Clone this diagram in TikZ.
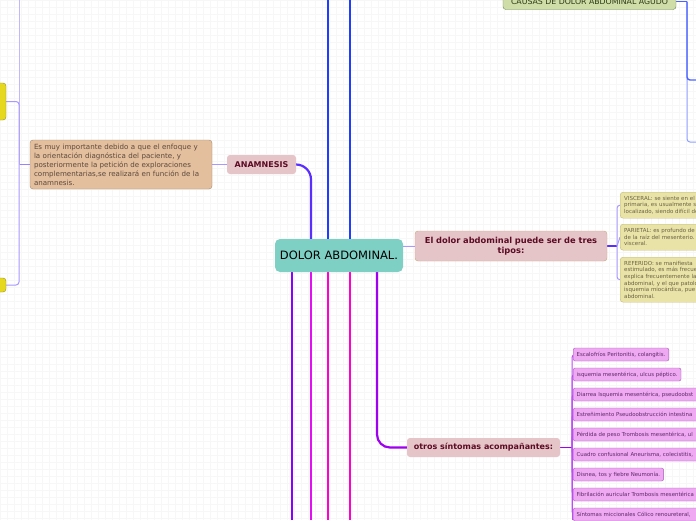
\documentclass[tikz,border=0pt]{standalone}
\usepackage{fontspec}
\setmainfont{DejaVu Sans}
\usepackage{xcolor}
\usepackage{tikz}
\usetikzlibrary{positioning, backgrounds}

\definecolor{centralteal}{HTML}{7FD0C4}
\definecolor{topicpink}{HTML}{E6C5C9}
\definecolor{topicline}{HTML}{C9A882}
\definecolor{topictext}{HTML}{5C0B24}
\definecolor{notetan}{HTML}{E4BF9E}
\definecolor{notetanline}{HTML}{A38B6E}
\definecolor{notetext}{HTML}{5B4A3C}
\definecolor{leafyellow}{HTML}{E9E3A8}
\definecolor{leafyellowline}{HTML}{C4BA78}
\definecolor{leafyellowtext}{HTML}{6B6242}
\definecolor{leafpink}{HTML}{EEA9F2}
\definecolor{leafpinkline}{HTML}{A55AB6}
\definecolor{leafpinktext}{HTML}{5E2A66}
\definecolor{causegreen}{HTML}{CFDDA9}
\definecolor{causeline}{HTML}{6E8C52}
\definecolor{causetext}{HTML}{2C3A14}
\definecolor{stubyellow}{HTML}{E6D81F}
\definecolor{stubline}{HTML}{9A8F1E}
\definecolor{lineblue}{HTML}{1F3DFF}
\definecolor{lineviolet}{HTML}{5A2EFF}
\definecolor{linepurple}{HTML}{8A00FF}
\definecolor{linemagentaA}{HTML}{E010F0}
\definecolor{linemagentaB}{HTML}{FF00D0}
\definecolor{lineorchid}{HTML}{A000F0}
\definecolor{linelilac}{HTML}{A898FF}
\definecolor{linelightblue}{HTML}{8FA0FF}

\begin{document}
\begin{tikzpicture}[x=1pt, y=-1pt,
  central/.style={rectangle, rounded corners=5pt, fill=centralteal, minimum width=128pt,
                  minimum height=33pt, inner sep=0pt, font=\fontsize{11.5}{12}\selectfont},
  topic/.style={rectangle, rounded corners=3pt, fill=topicpink, text=topictext, inner sep=0pt,
                align=center, font=\fontsize{8}{9.5}\selectfont\bfseries},
  note/.style={rectangle, draw=notetanline, rounded corners=3pt, fill=notetan, text=notetext,
               inner sep=0pt, align=left, font=\fontsize{7.1}{9}\selectfont},
  typeleaf/.style={rectangle, draw=leafyellowline, rounded corners=3pt, fill=leafyellow,
                   text=leafyellowtext, anchor=north west, inner xsep=4pt, inner ysep=0pt,
                   align=left, text width=92pt, font=\fontsize{5.5}{6.6}\selectfont},
  symleaf/.style={rectangle, draw=leafpinkline, rounded corners=2pt, fill=leafpink,
                  text=leafpinktext, anchor=west, inner xsep=3.5pt, inner ysep=0pt,
                  minimum height=13pt, font=\fontsize{5.4}{6}\selectfont},
  stub/.style={rectangle, draw=stubline, rounded corners=3pt, fill=stubyellow, inner sep=0pt,
               minimum width=16pt},
  branch/.style={line width=2.2pt},
  twig/.style={line width=1pt},
  gridline/.style={black!3, line width=0.4pt}
]
  \useasboundingbox (0,0) rectangle (696,520);
  \clip (0,0) rectangle (696,520);

  % Central topic
  \node[central] (central) at (339,255.5) {DOLOR ABDOMINAL.};

  % Anamnesis
  \node[topic, minimum width=69pt, minimum height=19pt] (anam) at (261.5,164.5) {ANAMNESIS};
  \node[note, minimum width=182pt, minimum height=49pt, text width=174pt] (anamtxt) at (121,164.5)
    {Es muy importante debido a que el enfoque y\\la orientación diagnóstica del paciente, y\\posteriormente la petición de exploraciones\\complementarias,se realizará en función de la\\anamnesis.};
  \node[stub, minimum height=37pt] (yel1) at (-2,101.5) {};
  \node[stub, minimum height=14pt] (yel2) at (-2,285) {};

  % Causes (cut at the top)
  \node[rectangle, draw=causeline, rounded corners=3pt, fill=causegreen, text=causetext,
        minimum width=173pt, minimum height=16pt, inner sep=0pt,
        font=\fontsize{7.8}{8}\selectfont] (causas) at (589.5,1.5)
        {\raisebox{-2.2pt}{CAUSAS DE DOLOR ABDOMINAL AGUDO}};

  % Three types
  \node[topic, draw=topicline, minimum width=192pt, minimum height=30pt, text width=186pt,
        font=\fontsize{8.3}{9.5}\selectfont\bfseries] (tipos) at (511,246)
        {El dolor abdominal puede ser de tres\\tipos:};
  \node[typeleaf, minimum height=26pt] (visc) at (620,192)
    {VISCERAL: se siente en el\\primaria, es usualmente s\\localizado, siendo difícil de};
  \node[typeleaf, minimum height=26pt] (pari) at (620,224)
    {PARIETAL: es profundo de\\de la raíz del mesenterio.\\visceral.};
  \node[typeleaf, minimum height=45pt] (refe) at (620,257)
    {REFERIDO: se manifiesta\\estimulado, es más frecue\\explica frecuentemente la\\abdominal, y el que patolo\\isquemia miocárdica, pue\\abdominal.};

  % Accompanying symptoms
  \node[topic, minimum width=153pt, minimum height=19pt, font=\fontsize{8}{10}\selectfont\bfseries]
    (otros) at (483.5,447.5) {otros síntomas acompañantes:};
  \node[symleaf] (s1) at (573,354.5) {Escalofríos Peritonitis, colangitis.};
  \node[symleaf] (s2) at (573,374.5) {isquemia mesentérica, ulcus péptico.};
  \node[symleaf, minimum width=140pt, align=left, text width=133pt] (s3) at (573,394.5)
    {Diarrea Isquemia mesentérica, pseudoobst};
  \node[symleaf, minimum width=140pt, align=left, text width=133pt] (s4) at (573,414.5)
    {Estreñimiento Pseudoobstrucción intestina};
  \node[symleaf, minimum width=140pt, align=left, text width=133pt] (s5) at (573,434.5)
    {Pérdida de peso Trombosis mesentérica, ul};
  \node[symleaf, minimum width=140pt, align=left, text width=133pt] (s6) at (573,454.5)
    {Cuadro confusional Aneurisma, colecistitis,};
  \node[symleaf] (s7) at (573,474.5) {Disnea, tos y fiebre Neumonía.};
  \node[symleaf, minimum width=140pt, align=left, text width=133pt] (s8) at (573,494.5)
    {Fibrilación auricular Trombosis mesentérica};
  \node[symleaf, minimum width=140pt, align=left, text width=133pt] (s9) at (573,514.5)
    {Síntomas miccionales Cólico renoureteral,};

  % Free ends of branches leaving the picture
  \coordinate (upA) at (328,0);
  \coordinate (upB) at (350,0);
  \coordinate (downA) at (292,520);
  \coordinate (downB) at (311,520);
  \coordinate (downC) at (328,520);
  \coordinate (downD) at (350,520);
  \coordinate (lfork) at (19,164.5);
  \coordinate (lup) at (19,0);
  \coordinate (cfork) at (687,1.5);
  \coordinate (cout1) at (700,80);
  \coordinate (cout2) at (700,142);
  \coordinate (tfork) at (617,246);
  \coordinate (sfork) at (572,447.5);
  \coordinate (sdown) at (572,520);

  \begin{pgfonlayer}{background}
    % Background grid
    \fill[white] (0,0) rectangle (696,520);
    \foreach \gx in {0,7,...,696} \draw[gridline] (\gx,0) -- (\gx,520);
    \foreach \gy in {0,7,...,520} \draw[gridline] (0,\gy) -- (696,\gy);

    % Main branches
    \draw[branch, lineblue] (upA |- central.north) -- (upA);
    \draw[branch, lineblue] (upB |- central.north) -- (upB);
    \draw[branch, linepurple] (downA |- central.south) -- (downA);
    \draw[branch, linemagentaA] (downB |- central.south) -- (downB);
    \draw[branch, linemagentaB] (downC |- central.south) -- (downC);
    \draw[branch, linemagentaB] (downD |- central.south) -- (downD);
    \draw[branch, lineviolet, rounded corners=15pt] (anam.east) -| ([xshift=-28pt]central.north);
    \draw[branch, lineorchid, rounded corners=13pt] ([xshift=38pt]central.south) |- (otros.west);
    \draw[twig, linelilac] (central.east |- tipos.west) -- (tipos.west);

    % Anamnesis branches
    \draw[twig, linelilac] (anam.west) -- (anamtxt.east);
    \draw[line width=1.6pt, linelilac!80!lineviolet] (anamtxt.west) -- (lfork);
    \draw[twig, linelilac!70] (lfork) -- (lup);
    \draw[twig, linelilac, rounded corners=3pt] (lfork) |- (yel1.east);
    \draw[twig, linelilac, rounded corners=3pt] (lfork) |- (yel2.east);

    % Causes branches
    \draw[twig, linelightblue, rounded corners=3pt] (cfork) |- (cout2);
    \draw[line width=1.4pt, lineblue!80, rounded corners=3pt] (cfork) |- (cout1);
    \draw[line width=1.4pt, lineblue!80] (causas.east) -- (cfork);

    % Type branches
    \draw[line width=1.6pt, lineviolet] (tipos.east) -- (tfork);
    \draw[twig, linelilac, rounded corners=3pt] (tfork) |- (visc.west);
    \draw[twig, linelilac] (tfork) -- (pari.west);
    \draw[twig, linelilac, rounded corners=3pt] (tfork) |- (refe.west);

    % Symptom branches
    \draw[line width=1.6pt, lineorchid] (otros.east) -- (sfork);
    \draw[twig, lineorchid!70, rounded corners=3pt] (sfork) |- (s1.west);
    \draw[twig, lineorchid!70, rounded corners=3pt] (sfork) |- (s2.west);
    \draw[twig, lineorchid!70, rounded corners=3pt] (sfork) |- (s3.west);
    \draw[twig, lineorchid!70, rounded corners=3pt] (sfork) |- (s4.west);
    \draw[twig, lineorchid!70, rounded corners=3pt] (sfork) |- (s5.west);
    \draw[twig, lineorchid!70, rounded corners=3pt] (sfork) |- (s6.west);
    \draw[twig, lineorchid!70, rounded corners=3pt] (sfork) |- (s7.west);
    \draw[twig, lineorchid!70, rounded corners=3pt] (sfork) |- (s8.west);
    \draw[twig, lineorchid!70, rounded corners=3pt] (sfork) |- (s9.west);
    \draw[twig, lineorchid!70] (sfork) -- (sdown);
  \end{pgfonlayer}
\end{tikzpicture}
\end{document}
